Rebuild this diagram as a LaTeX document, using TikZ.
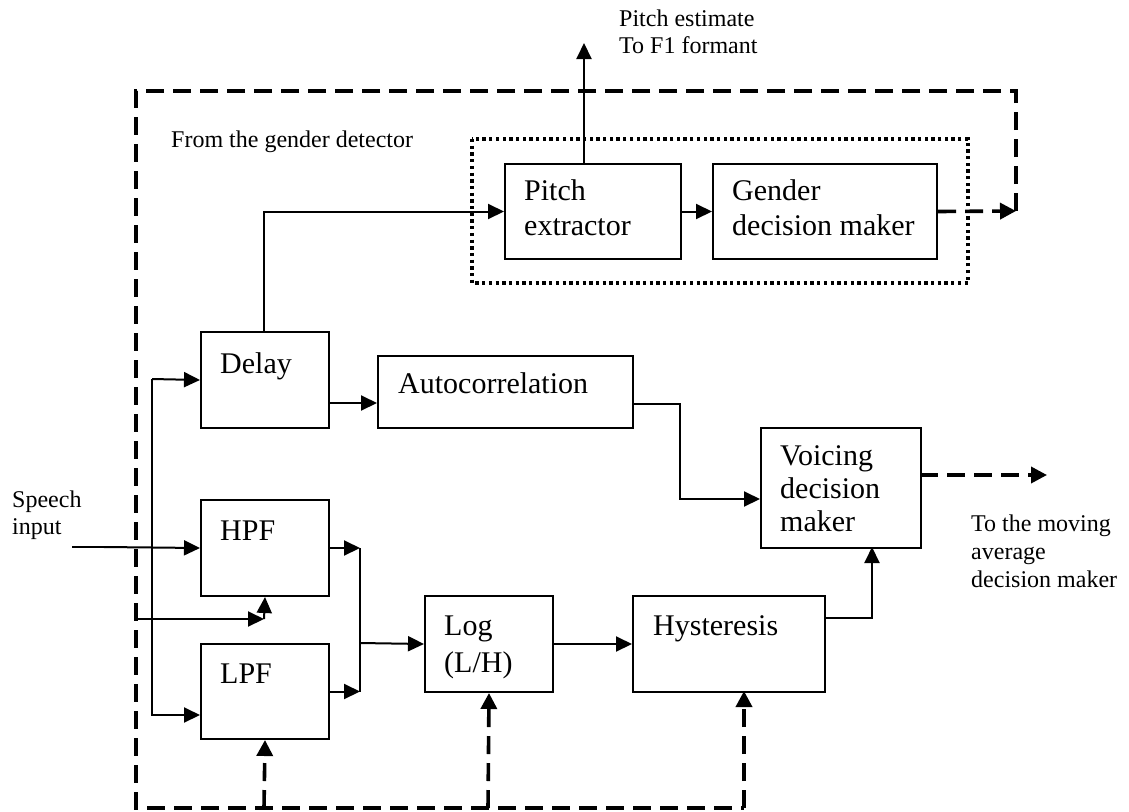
\documentclass[tikz,border=0pt]{standalone}
\usepackage{fontspec}
\setmainfont{Liberation Serif}
\usetikzlibrary{arrows.meta}
\newcommand{\stack}[1]{\begin{tabular}[t]{@{}l@{}}#1\end{tabular}}

\begin{document}
\begin{tikzpicture}[x=1pt,y=-1pt,
  blk/.style={draw, line width=2pt, anchor=north west, inner sep=0pt},
  big/.style={anchor=base west, inner sep=0pt, font=\fontsize{30}{35}\selectfont},
  small/.style={anchor=base west, inner sep=0pt, font=\fontsize{24}{27}\selectfont},
  wire/.style={line width=2pt},
  arr/.style={wire, -{Triangle[length=16pt,width=15pt]}},
  ctl/.style={line width=3.6pt, dash pattern=on 18pt off 9pt},
  ctlarr/.style={ctl, -{Triangle[length=16pt,width=16pt]}},
  dots/.style={line width=3.3pt, dash pattern=on 3.3pt off 3.4pt}
]
\path[use as bounding box, fill=white] (0,0) rectangle (1129,811);

% processing blocks
\node[blk, minimum width=128pt, minimum height=96pt] (delay) at (200,331) {};
\node[blk, minimum width=255pt, minimum height=72pt] (autoc) at (377,355) {};
\node[blk, minimum width=176pt, minimum height=95pt] (pitch) at (504,163) {};
\node[blk, minimum width=224pt, minimum height=95pt] (gender) at (712,163) {};
\node[blk, minimum width=128pt, minimum height=96pt] (hpf) at (200,499) {};
\node[blk, minimum width=128pt, minimum height=95pt] (lpf) at (200,643) {};
\node[blk, minimum width=128pt, minimum height=96pt] (log) at (424,595) {};
\node[blk, minimum width=192pt, minimum height=96pt] (hyst) at (632,595) {};
\node[blk, minimum width=160pt, minimum height=120pt] (voice) at (760,427) {};

% block captions
\node[big] (delayt) at (220,373) {Delay};
\node[big] (autoct) at (398,393) {Autocorrelation};
\node[big] (pitcht) at (524,200) {\stack{Pitch\\extractor}};
\node[big] (gendert) at (732,200) {\stack{Gender\\decision maker}};
\node[big] (hpft) at (220,540) {HPF};
\node[big] (lpft) at (220,683) {LPF};
\node[big, font=\fontsize{30}{37}\selectfont] (logt) at (444,635) {\stack{Log\\(L/H)}};
\node[big] (hystt) at (653,635) {Hysteresis};
\node[big, font=\fontsize{30}{33}\selectfont] (voicet) at (780,465) {\stack{Voicing\\decision\\maker}};

% free labels
\node[small] (pest) at (619,27) {\stack{Pitch estimate\\To F1 formant}};
\node[small] (from) at (171,147) {From the gender detector};
\node[small] (speech) at (12,507) {\stack{Speech\\input}};
\node[small, font=\fontsize{24}{28}\selectfont] (tomov) at (971,531) {\stack{To the moving\\average\\decision maker}};

% gender detector group
\draw[dots] (472,139) rectangle (968,283);

% connector end points
\coordinate (in0) at (72,547);
\coordinate (in1) at (104,547);
\coordinate (bus) at (152,379);
\coordinate (lpfin) at (200,715);
\coordinate (join) at (360,643);
\coordinate (dout) at (328,403);
\coordinate (ain) at (377,403);
\coordinate (aout) at (632,404);
\coordinate (vin2) at (760,499);
\coordinate (dtop) at (264,331);
\coordinate (pup) at (584,163);
\coordinate (ptip) at (584,43);
\coordinate (hout) at (824,618);
\coordinate (vin) at (872,547);
\coordinate (cl) at (136,619);
\coordinate (ck) at (264,619);
\coordinate (vout) at (920,475);
\coordinate (vtip) at (1047,475);
\coordinate (gtip) at (1016,211);
\coordinate (ctr) at (1016,91);
\coordinate (ctl0) at (136,91);
\coordinate (cbl) at (136,808);
\coordinate (cb1) at (264,808);
\coordinate (cb2) at (488,808);
\coordinate (cb3) at (744,808);
\coordinate (hin) at (744,691);

% signal paths
\draw[line width=1.2pt] (in0) -- (in1);
\draw[arr] (in1) -- (hpf.west);
\draw[wire] (bus) -- (152,715);
\draw[arr] (bus) -- (delay.west);
\draw[arr] (bus) |- (lpfin);
\draw[arr] (hpf.east) -- (hpf.east -| join);
\draw[arr] (lpf.east) -- (lpf.east -| join);
\draw[wire] (hpf.east -| join) -- (lpf.east -| join);
\draw[arr] (join) -- (log.west);
\draw[arr] (log.east) -- (hyst.west);
\draw[arr] (hout) -| (vin);
\draw[arr] (dout) -- (ain);
\draw[arr] (aout) -- ++(48,0) |- (vin2);
\draw[arr] (dtop) |- (pitch.west);
\draw[arr] (pitch.east) -- (gender.west);
\draw[arr] (pup) -- (ptip);
\draw[arr] (cl) -- (ck);
\draw[arr] (ck) -- (hpf.south);

% gender control loop
\draw[ctlarr] (gender.east) -- (gtip);
\draw[ctl] (gtip) -- (ctr) -- (ctl0) -- (cbl) -- (cb3);
\draw[ctlarr] (cb1) -- (lpf.south);
\draw[ctlarr] (cb2) -- (log.south);
\draw[ctlarr] (cb3) -- (hin);
\draw[ctlarr] (vout) -- (vtip);
\end{tikzpicture}
\end{document}
